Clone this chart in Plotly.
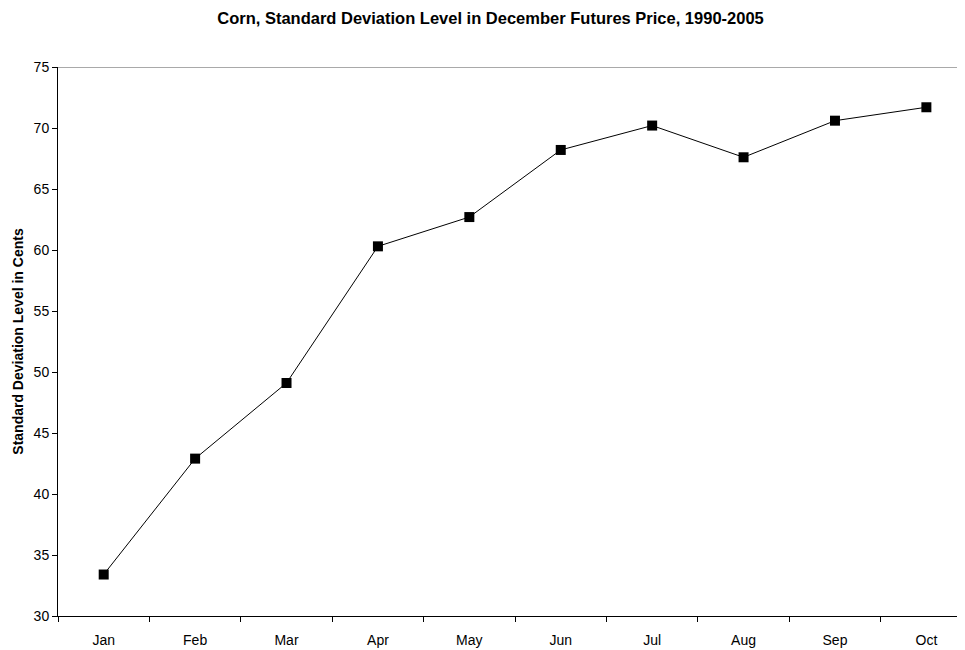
import plotly.graph_objects as go

months = ["Jan", "Feb", "Mar", "Apr", "May", "Jun", "Jul", "Aug", "Sep", "Oct"]
std_dev = [33.4, 42.9, 49.1, 60.3, 62.7, 68.2, 70.2, 67.6, 70.6, 71.7]

fig = go.Figure()
fig.add_trace(go.Scatter(
    x=months, y=std_dev, mode="lines+markers",
    line=dict(color="black", width=1),
    marker=dict(symbol="square", size=10, color="black"),
    showlegend=False,
))

fig.update_layout(
    width=965, height=650,
    margin=dict(l=50, r=0, t=59, b=42),
    paper_bgcolor="white", plot_bgcolor="white",
    font=dict(family="Liberation Sans, Arial, sans-serif", size=14, color="black"),
    title=dict(text="<b>Corn, Standard Deviation Level in December Futures Price, 1990-2005</b>",
               x=0.5, xanchor="center", y=0.985, yanchor="middle",
               font=dict(size=16.5, color="black")),
    xaxis=dict(
        type="category", range=[-0.5, 9.51],
        showline=True, linecolor="black", linewidth=1,
        ticks="outside", ticklen=5, tickcolor="black", tickson="boundaries",
        showgrid=False, zeroline=False,
        tickfont=dict(size=14), ticklabelstandoff=11,
    ),
    yaxis=dict(
        range=[30, 75], dtick=5,
        showline=True, linecolor="black", linewidth=1,
        ticks="outside", ticklen=5, tickcolor="black",
        showgrid=False, zeroline=False,
        tickfont=dict(size=14),
        title=dict(text="<b>Standard Deviation Level in Cents</b>", font=dict(size=14), standoff=6),
    ),
)
fig.add_shape(type="line", xref="paper", yref="y", x0=0, x1=1, y0=75, y1=75,
              line=dict(color="#555555", width=1))

fig.write_html("out.html")
